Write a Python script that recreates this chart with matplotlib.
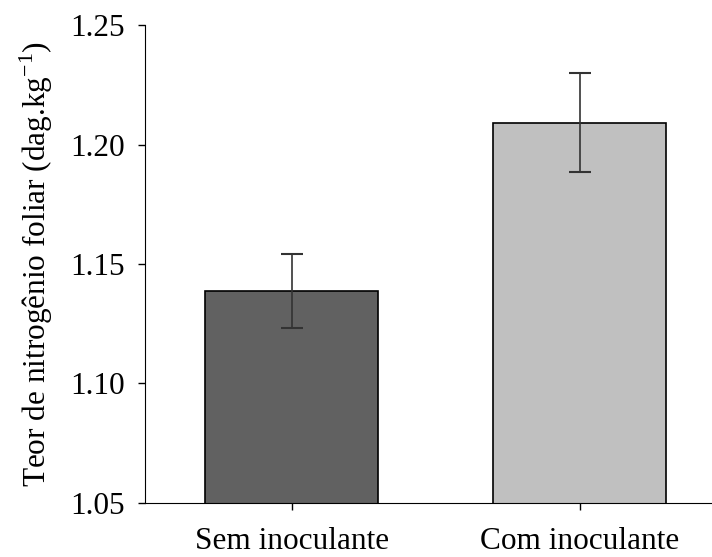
import numpy as np
import matplotlib.pyplot as plt

plt.rcParams['font.family'] = ['Liberation Serif', 'DejaVu Serif']

categories = ['Sem inoculante', 'Com inoculante']
nitrogen = [1.1387, 1.2092]
std_err = [0.0155, 0.0209]
colors = ['#616161', '#c0c0c0']

fig = plt.figure(figsize=(7.12, 5.57), dpi=100)
ax = fig.add_axes([0.204, 0.097, 0.796, 0.858])

x_pos = np.arange(len(categories))
ax.bar(x_pos, nitrogen, width=0.6, color=colors, edgecolor='black', linewidth=1.2,
       yerr=std_err, error_kw=dict(ecolor='#333333', elinewidth=1.2, capsize=8, capthick=1.5))

ax.set_xlim(-0.509, 1.46)
ax.set_ylim(1.05, 1.25)
ax.set_yticks([1.05, 1.10, 1.15, 1.20, 1.25])
ax.set_yticklabels(['1.05', '1.10', '1.15', '1.20', '1.25'])
ax.set_xticks(x_pos)
ax.set_xticklabels(categories)
ax.tick_params(labelsize=22.5, length=5, width=1, pad=10)
ax.tick_params(axis='x', pad=12)

for side in ['top', 'right']:
    ax.spines[side].set_visible(False)

ax.set_ylabel('Teor de nitrogênio foliar (dag.kg$^{\\mathregular{-1}}$)', fontsize=22.5, labelpad=11)

plt.savefig('out.png')
